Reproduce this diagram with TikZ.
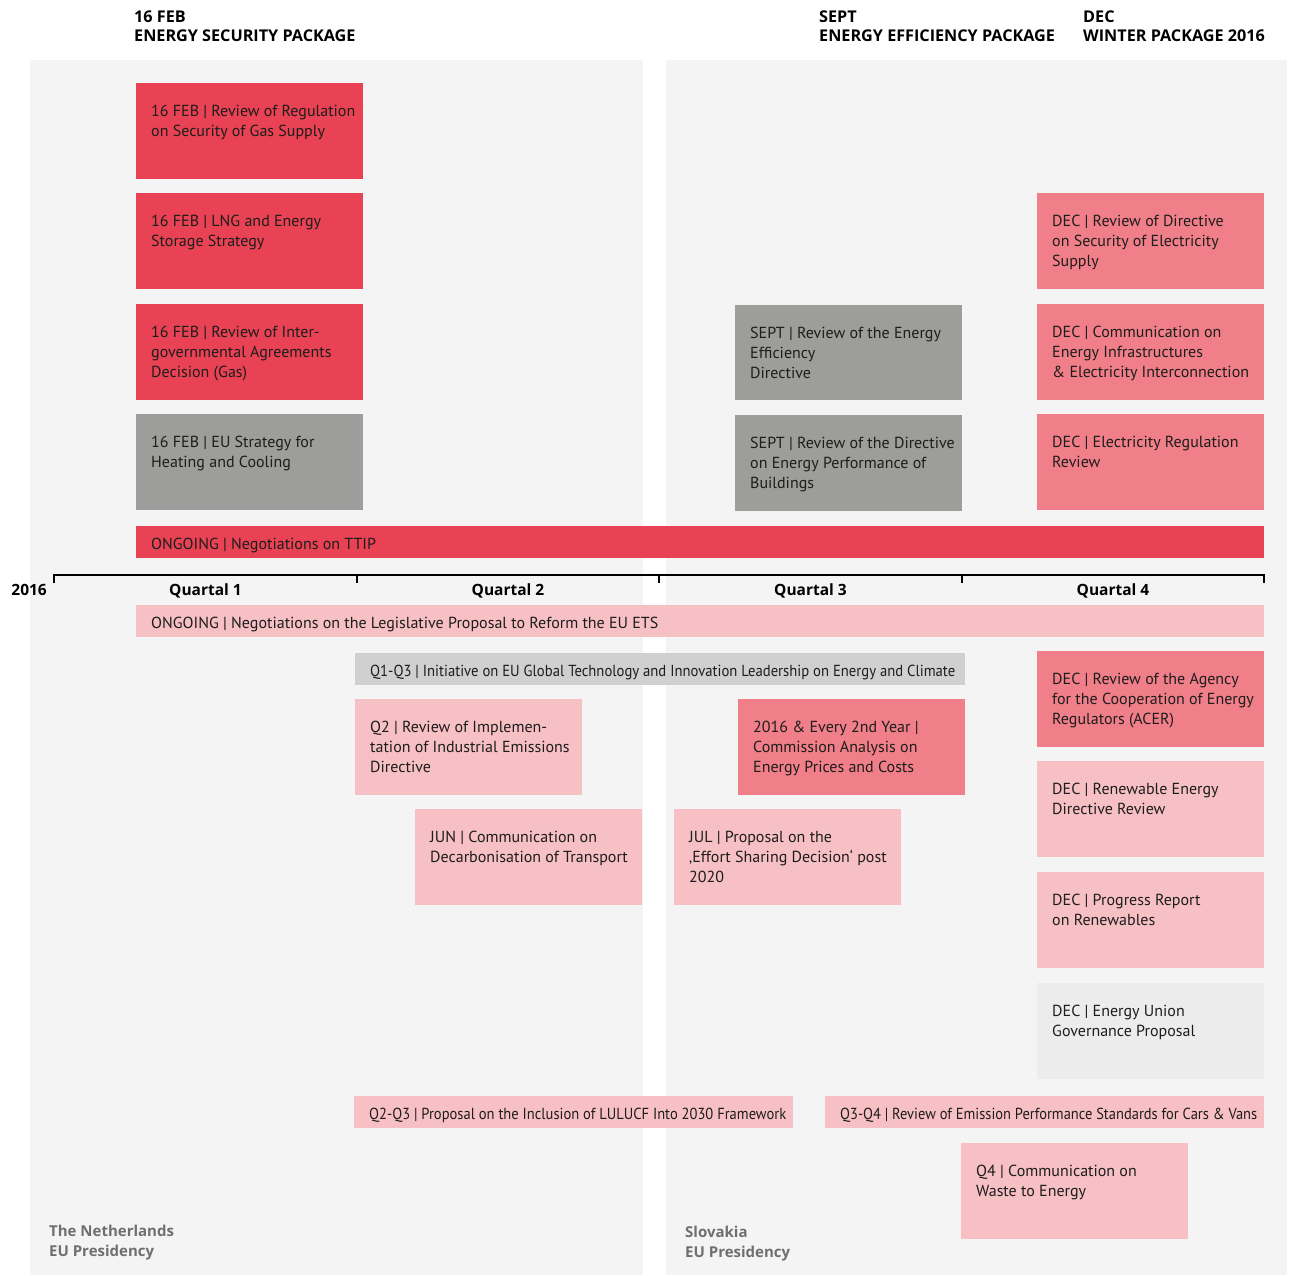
\documentclass[tikz,border=0pt]{standalone}
\usepackage{fontspec}
\setmainfont{PT Sans}
\newfontfamily\boldfont{Open Sans}[UprightFont=* Bold]
\usepackage{graphicx}
\definecolor{bgc}{HTML}{F4F4F4}
\definecolor{redA}{HTML}{E94254}
\definecolor{pinkM}{HTML}{F07F8A}
\definecolor{pinkL}{HTML}{F7C0C5}
\definecolor{grayD}{HTML}{9D9D9C}
\definecolor{grayL}{HTML}{D0D0D0}
\definecolor{grayV}{HTML}{ECECEC}
\definecolor{txtc}{HTML}{1D1D1B}
\definecolor{footc}{HTML}{6F6F6F}
\tikzset{
  evbox/.style={rectangle, anchor=north west, inner sep=0pt, draw=none},
  evtext/.style={anchor=north west, inner sep=0pt, align=left, text=txtc, font=\fontsize{16}{20}\selectfont},
  headtext/.style={anchor=north west, inner sep=0pt, align=left, text=black, font=\boldfont\fontsize{16.2}{19}\selectfont},
  foottext/.style={anchor=north west, inner sep=0pt, align=left, text=footc, font=\boldfont\fontsize{15}{20}\selectfont},
  axislab/.style={inner sep=0pt, text=black, font=\boldfont\fontsize{15.5}{19}\selectfont},
  axisline/.style={line width=2.6pt, black},
}
\newcommand\evbox[7]{%
  \node[evbox, fill=#6, minimum width=#4pt, minimum height=#5pt] (#1) at (#2,#3) {};
  \node[evtext] (#1-t) at ([shift={(15,19.5)}]#1.north west) {\strut #7};
}
\newcommand\evbar[7]{%
  \node[evbox, fill=#6, minimum width=#4pt, minimum height=#5pt] (#1) at (#2,#3) {};
  \node[evtext] (#1-t) at ([shift={(15,9.3)}]#1.north west) {\strut #7};
}
\begin{document}
\begin{tikzpicture}[x=1pt,y=-1pt]
\useasboundingbox (0,0) rectangle (1289,1275);
\fill[white] (0,0) rectangle (1289,1275);
% panels
\node[evbox, fill=bgc, minimum width=613pt, minimum height=1215pt] (panelL) at (30,60) {};
\node[evbox, fill=bgc, minimum width=621pt, minimum height=1215pt] (panelR) at (666,60) {};
% headers
\node[headtext] (h1) at (134,9.2) {\strut 16 FEB\\ENERGY SECURITY PACKAGE};
\node[headtext] (h2) at (819,9.2) {\strut SEPT\\ENERGY EFFICIENCY PACKAGE};
\node[headtext] (h3) at (1083,9.2) {\strut DEC\\WINTER PACKAGE 2016};
% upper left column
\evbox{a1}{136}{83}{227}{96}{redA}{16 FEB | Review of Regulation\\on Security of Gas Supply}
\evbox{a2}{136}{193}{227}{96}{redA}{16 FEB | LNG and Energy\\Storage Strategy}
\evbox{a3}{136}{304}{227}{96}{redA}{16 FEB | Review of Inter-\\governmental Agreements\\Decision (Gas)}
\evbox{a4}{136}{414}{227}{96}{grayD}{16 FEB | EU Strategy for\\Heating and Cooling}
% sept
\evbox{s1}{735}{305}{227}{95}{grayD}{SEPT | Review of the Energy\\Efficiency\\Directive}
\evbox{s2}{735}{415}{227}{96}{grayD}{SEPT | Review of the Directive\\on Energy Performance of\\Buildings}
% dec upper
\evbox{d1}{1037}{193}{227}{96}{pinkM}{DEC | Review of Directive\\on Security of Electricity\\Supply}
\evbox{d2}{1037}{304}{227}{96}{pinkM}{DEC | Communication on\\Energy Infrastructures\\\& Electricity Interconnection}
\evbox{d3}{1037}{414}{227}{96}{pinkM}{DEC | Electricity Regulation\\Review}
% TTIP bar
\evbar{ttip}{136}{526}{1128}{32}{redA}{ONGOING | Negotiations on TTIP}
% axis
\draw[axisline] (54,583) -- (54,575) -- (1264,575) -- (1264,583);
\foreach \tx in {357,659,962} { \draw[axisline] (\tx,575) -- (\tx,583); }
\node[axislab, anchor=base east] (y2016) at (47,595.5) {2016};
\node[axislab, anchor=base] (q1) at (205.5,595.5) {Quartal 1};
\node[axislab, anchor=base] (q2) at (508,595.5) {Quartal 2};
\node[axislab, anchor=base] (q3) at (810.5,595.5) {Quartal 3};
\node[axislab, anchor=base] (q4) at (1113,595.5) {Quartal 4};
% ETS bar
\evbar{ets}{136}{605}{1128}{32}{pinkL}{ONGOING | Negotiations on the Legislative Proposal to Reform the EU ETS}
% Q1-Q3 bar
\evbar{q13}{355}{653}{610}{32}{grayL}{\resizebox{585pt}{\height}{Q1-Q3 | Initiative on EU Global Technology and Innovation Leadership on Energy and Climate}}
% lower boxes
\evbox{b1}{355}{699}{227}{96}{pinkL}{Q2 | Review of Implemen-\\tation of Industrial Emissions\\Directive}
\evbox{b2}{738}{699}{227}{96}{pinkM}{2016 \& Every 2nd Year |\\Commission Analysis on\\Energy Prices and Costs}
\evbox{b3}{415}{809}{227}{96}{pinkL}{JUN | Communication on\\Decarbonisation of Transport}
\evbox{b4}{674}{809}{227}{96}{pinkL}{JUL | Proposal on the\\‚Effort Sharing Decision‘ post\\2020}
\evbox{e1}{1037}{651}{227}{96}{pinkM}{DEC | Review of the Agency\\for the Cooperation of Energy\\Regulators (ACER)}
\evbox{e2}{1037}{761}{227}{96}{pinkL}{DEC | Renewable Energy\\Directive Review}
\evbox{e3}{1037}{872}{227}{96}{pinkL}{DEC | Progress Report\\on Renewables}
\evbox{e4}{1037}{983}{227}{96}{grayV}{DEC | Energy Union\\Governance Proposal}
\evbar{lulucf}{354}{1096}{439}{32}{pinkL}{\resizebox{417pt}{\height}{Q2-Q3 | Proposal on the Inclusion of LULUCF Into 2030 Framework}}
\evbar{cars}{825}{1096}{439}{32}{pinkL}{\resizebox{417pt}{\height}{Q3-Q4 | Review of Emission Performance Standards for Cars \& Vans}}
\evbox{w1}{961}{1143}{227}{96}{pinkL}{Q4 | Communication on\\Waste to Energy}
% footers
\node[foottext] (f1) at (49,1222) {\strut The Netherlands\\EU Presidency};
\node[foottext] (f2) at (685,1223) {\strut Slovakia\\EU Presidency};
\end{tikzpicture}
\end{document}
